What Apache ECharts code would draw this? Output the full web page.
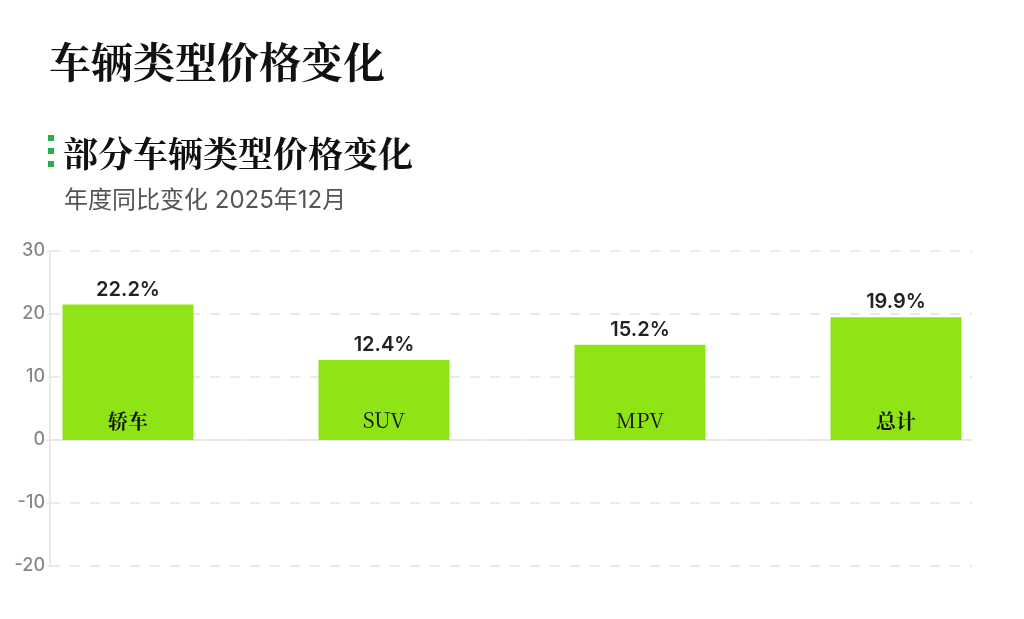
<!DOCTYPE html>
<html>
<head>
<meta charset="utf-8">
<script src="https://cdn.jsdelivr.net/npm/echarts@6/dist/echarts.min.js"></script>
<style>
html,body{margin:0;padding:0;background:#fff;}
#c{width:1024px;height:619px;}
</style>
</head>
<body>
<div id="c"></div>
<script>
const categories = ['轿车', 'SUV', 'MPV', '总计'];
const barValues = [21.5, 12.7, 15.1, 19.5];
const valueLabels = ['22.2%', '12.4%', '15.2%', '19.9%'];
const yTicks = { min: -20, max: 30, interval: 10 };

const chart = echarts.init(document.getElementById('c'));
const serif = "'Noto Serif CJK SC','Liberation Serif','DejaVu Serif',serif";
const sans = "Inter,'Noto Sans CJK SC','Noto Sans',sans-serif";

chart.setOption({
  backgroundColor: '#fff',
  animation: false,
  title: [
    { text: '车辆类型价格变化', left: 44, top: 36,
      textStyle: { fontFamily: serif, fontSize: 42, fontWeight: 'bold', color: '#111' } },
    { text: '部分车辆类型价格变化', left: 58, top: 131,
      textStyle: { fontFamily: serif, fontSize: 35, fontWeight: 'bold', color: '#111' } },
    { text: '年度同比变化 2025年12月', left: 59, top: 184,
      textStyle: { fontFamily: sans, fontSize: 24, fontWeight: 'normal', color: '#555' } }
  ],
  graphic: [
    { type: 'rect', shape: { x: 48, y: 135, width: 6, height: 6 }, style: { fill: '#22b14c' } },
    { type: 'rect', shape: { x: 48, y: 148, width: 6, height: 6 }, style: { fill: '#22b14c' } },
    { type: 'rect', shape: { x: 48, y: 161, width: 6, height: 6 }, style: { fill: '#22b14c' } }
  ],
  grid: [
    { left: 50, right: 52, top: 251, bottom: 53 },
    { left: -1.75, right: -0.25, top: 251, bottom: 53 }
  ],
  xAxis: [
    { gridIndex: 0, type: 'value', min: 0, max: 1,
      axisLine: { show: true, onZero: true, lineStyle: { color: '#e3e3e3', width: 1.5 } },
      axisTick: { show: false }, axisLabel: { show: false }, splitLine: { show: false } },
    { gridIndex: 1, type: 'category', data: categories,
      axisLine: { show: false }, axisTick: { show: false }, axisLabel: { show: false }, splitLine: { show: false } }
  ],
  yAxis: [
    { gridIndex: 0, type: 'value', min: yTicks.min, max: yTicks.max, interval: yTicks.interval,
      axisLine: { show: true, lineStyle: { color: '#e3e3e3', width: 1.5 } },
      axisTick: { show: true, length: 3, lineStyle: { color: '#e3e3e3' } },
      axisLabel: { color: '#888', fontSize: 18, fontWeight: 500, fontFamily: sans, margin: 5 },
      splitLine: { show: true, lineStyle: { color: '#e3e3e3', type: [10, 10], width: 1.5 } } },
    { gridIndex: 1, type: 'value', min: yTicks.min, max: yTicks.max, interval: yTicks.interval,
      axisLine: { show: false }, axisTick: { show: false }, axisLabel: { show: false }, splitLine: { show: false } }
  ],
  series: [
    { type: 'bar', xAxisIndex: 1, yAxisIndex: 1, data: barValues, barWidth: 131,
      itemStyle: { color: '#8fe416' },
      label: { show: true, position: 'top', distance: 5,
        formatter: p => valueLabels[p.dataIndex],
        fontFamily: sans, fontSize: 20, fontWeight: 600, color: '#222' } },
    { type: 'bar', xAxisIndex: 1, yAxisIndex: 1, data: barValues, barWidth: 131, barGap: '-100%',
      itemStyle: { color: 'rgba(0,0,0,0)' }, silent: true,
      label: { show: true, position: 'insideBottom', distance: 9,
        formatter: p => /^[A-Za-z]+$/.test(categories[p.dataIndex])
          ? '{l|' + categories[p.dataIndex] + '}' : '{c|' + categories[p.dataIndex] + '}',
        rich: {
          l: { fontFamily: serif, fontSize: 21, fontWeight: 'normal', color: '#111' },
          c: { fontFamily: serif, fontSize: 20, fontWeight: 'bold', color: '#111' }
        } } }
  ]
});
</script>
</body>
</html>
